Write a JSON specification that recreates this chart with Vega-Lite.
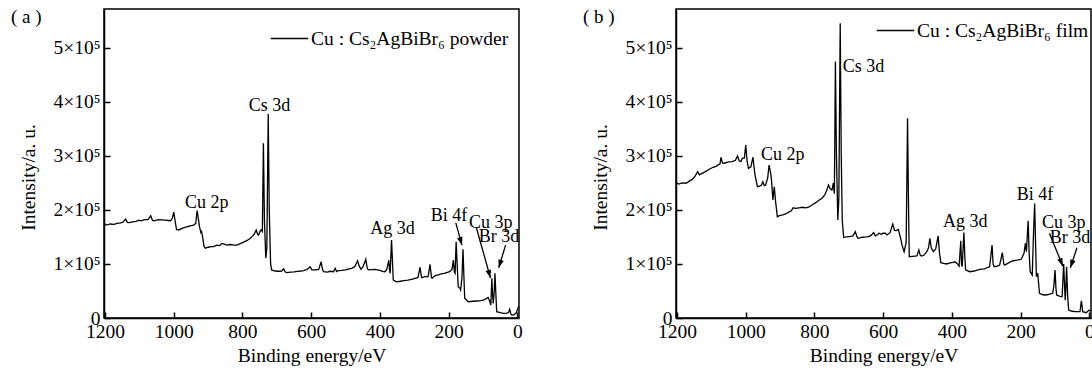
{
  "$schema": "https://vega.github.io/schema/vega-lite/v6.json",
  "background": "white",
  "padding": {"left": 10, "top": 7, "right": 0, "bottom": 2},
  "spacing": 59,
  "config": {
    "font": "Liberation Serif, Times New Roman, DejaVu Serif, serif",
    "view": {"stroke": "black", "strokeWidth": 1.5},
    "axis": {"domainColor": "black", "domainWidth": 1.5, "tickColor": "black", "tickWidth": 1.5, "tickSize": -6, "labelPadding": 10, "labelColor": "black", "labelFontSize": 19.5, "labelFont": "Liberation Serif, Times New Roman, DejaVu Serif, serif", "titleFont": "Liberation Serif, Times New Roman, DejaVu Serif, serif", "titleFontSize": 19.5, "titleFontWeight": "normal", "titleColor": "black", "grid": false, "labelFlush": false},
    "axisY": {"titlePadding": 14, "titleY": 168},
    "axisX": {"titlePadding": 6},
    "legend": {"orient": "top-right", "symbolType": "stroke", "symbolSize": 1400, "symbolStrokeWidth": 1.5, "symbolStrokeColor": "black", "labelFontSize": 19.5, "labelFont": "Liberation Serif, Times New Roman, DejaVu Serif, serif", "labelColor": "black", "labelOffset": 2, "labelLimit": 500, "padding": 0, "offset": 10},
    "title": {"anchor": "start", "frame": "bounds", "offset": -18, "fontSize": 19, "font": "Liberation Serif, Times New Roman, DejaVu Serif, serif", "fontWeight": "normal", "color": "black", "dx": -8},
    "text": {"font": "Liberation Serif, Times New Roman, DejaVu Serif, serif"}
  },
  "resolve": {"scale": {"x": "independent", "y": "independent", "color": "independent"}, "legend": {"color": "independent"}},
  "datasets": {
    "a": [
      {"e": 1203, "i": 175000}, {"e": 1195, "i": 172000}, {"e": 1185, "i": 174000}, {"e": 1174, "i": 173500}, {"e": 1165, "i": 175000},
      {"e": 1155, "i": 176000}, {"e": 1148, "i": 177500}, {"e": 1140, "i": 183000}, {"e": 1135, "i": 177000}, {"e": 1130, "i": 176500},
      {"e": 1120, "i": 178000}, {"e": 1110, "i": 179000}, {"e": 1100, "i": 181000}, {"e": 1096, "i": 180000}, {"e": 1085, "i": 182000},
      {"e": 1075, "i": 182000}, {"e": 1067, "i": 189000}, {"e": 1062, "i": 181000}, {"e": 1058, "i": 180000}, {"e": 1045, "i": 182000},
      {"e": 1035, "i": 181500}, {"e": 1025, "i": 181000}, {"e": 1015, "i": 180500}, {"e": 1009, "i": 180000}, {"e": 1004, "i": 185000},
      {"e": 1000, "i": 196000}, {"e": 996, "i": 180000}, {"e": 992, "i": 164000}, {"e": 985, "i": 163000}, {"e": 976, "i": 166000},
      {"e": 965, "i": 168000}, {"e": 955, "i": 170000}, {"e": 942, "i": 172000}, {"e": 936, "i": 175000}, {"e": 932, "i": 199000},
      {"e": 928, "i": 182000}, {"e": 925, "i": 169000}, {"e": 921, "i": 158000}, {"e": 919, "i": 160000}, {"e": 916, "i": 150000},
      {"e": 912, "i": 133000}, {"e": 908, "i": 129000}, {"e": 900, "i": 131000}, {"e": 890, "i": 132000}, {"e": 884, "i": 132000},
      {"e": 875, "i": 135000}, {"e": 866, "i": 134000}, {"e": 860, "i": 138000}, {"e": 855, "i": 137000}, {"e": 845, "i": 135000},
      {"e": 835, "i": 136000}, {"e": 825, "i": 135000}, {"e": 816, "i": 135000}, {"e": 805, "i": 138000}, {"e": 795, "i": 141000},
      {"e": 785, "i": 144000}, {"e": 777, "i": 147600}, {"e": 770, "i": 152000}, {"e": 765, "i": 156000}, {"e": 760, "i": 163000},
      {"e": 756, "i": 155000}, {"e": 753, "i": 153700}, {"e": 749, "i": 160000}, {"e": 746, "i": 163000}, {"e": 742, "i": 160000},
      {"e": 739, "i": 323500}, {"e": 736, "i": 180000}, {"e": 732, "i": 110500}, {"e": 729, "i": 130000}, {"e": 725, "i": 377800},
      {"e": 722, "i": 200000}, {"e": 718, "i": 100000}, {"e": 715, "i": 89000}, {"e": 705, "i": 87000}, {"e": 695, "i": 86500},
      {"e": 686, "i": 87000}, {"e": 680, "i": 91000}, {"e": 675, "i": 85000}, {"e": 671, "i": 84000}, {"e": 660, "i": 85000},
      {"e": 650, "i": 85500}, {"e": 640, "i": 86500}, {"e": 630, "i": 87000}, {"e": 622, "i": 87600}, {"e": 612, "i": 90000},
      {"e": 603, "i": 95000}, {"e": 598, "i": 89000}, {"e": 588, "i": 89000}, {"e": 578, "i": 90000}, {"e": 571, "i": 104000},
      {"e": 567, "i": 90000}, {"e": 564, "i": 85700}, {"e": 553, "i": 85000}, {"e": 545, "i": 86500}, {"e": 535, "i": 85700},
      {"e": 530, "i": 92000}, {"e": 526, "i": 86000}, {"e": 521, "i": 87600}, {"e": 510, "i": 88000}, {"e": 500, "i": 89000},
      {"e": 490, "i": 91000}, {"e": 482, "i": 92000}, {"e": 473, "i": 95000}, {"e": 465, "i": 106000}, {"e": 460, "i": 96000},
      {"e": 455, "i": 90000}, {"e": 449, "i": 95000}, {"e": 441, "i": 108700}, {"e": 437, "i": 93000}, {"e": 434, "i": 89000},
      {"e": 424, "i": 89500}, {"e": 414, "i": 90000}, {"e": 400, "i": 88000}, {"e": 390, "i": 86000}, {"e": 385, "i": 85700},
      {"e": 380, "i": 90000}, {"e": 374, "i": 107000}, {"e": 372, "i": 90000}, {"e": 370, "i": 82800}, {"e": 366, "i": 144500},
      {"e": 363, "i": 100000}, {"e": 361, "i": 70000}, {"e": 351, "i": 67000}, {"e": 340, "i": 68000}, {"e": 330, "i": 69000},
      {"e": 318, "i": 70000}, {"e": 305, "i": 72000}, {"e": 295, "i": 74000}, {"e": 289, "i": 75000}, {"e": 283, "i": 94000},
      {"e": 279, "i": 76000}, {"e": 277, "i": 74600}, {"e": 270, "i": 77000}, {"e": 265, "i": 76000}, {"e": 259.5, "i": 76500},
      {"e": 254, "i": 99400}, {"e": 250, "i": 76000}, {"e": 248, "i": 73500}, {"e": 240, "i": 78000}, {"e": 230, "i": 80000},
      {"e": 221, "i": 81500}, {"e": 210, "i": 83000}, {"e": 197, "i": 85700}, {"e": 190, "i": 90000}, {"e": 186, "i": 107000},
      {"e": 183, "i": 85000}, {"e": 181, "i": 82800}, {"e": 178, "i": 141000}, {"e": 175, "i": 100000}, {"e": 172, "i": 58000},
      {"e": 167, "i": 55000}, {"e": 165, "i": 52000}, {"e": 161, "i": 75000}, {"e": 158, "i": 127000}, {"e": 155, "i": 70000},
      {"e": 153, "i": 36500}, {"e": 143, "i": 30000}, {"e": 130, "i": 31000}, {"e": 118, "i": 31500}, {"e": 105, "i": 32000},
      {"e": 95, "i": 34000}, {"e": 85, "i": 38000}, {"e": 80, "i": 31000}, {"e": 77, "i": 24000}, {"e": 74, "i": 73500},
      {"e": 72, "i": 45000}, {"e": 70, "i": 27000}, {"e": 67, "i": 50000}, {"e": 65, "i": 82800}, {"e": 62, "i": 40000},
      {"e": 60, "i": 11700}, {"e": 50, "i": 10000}, {"e": 40, "i": 8700}, {"e": 30, "i": 9000}, {"e": 25, "i": 10500},
      {"e": 22, "i": 16000}, {"e": 19, "i": 8000}, {"e": 16, "i": 5500}, {"e": 10, "i": 6000}, {"e": 3, "i": 9800},
      {"e": -1, "i": 16000}, {"e": -4, "i": 22000}
    ],
    "b": [
      {"e": 1203, "i": 250000}, {"e": 1195, "i": 248000}, {"e": 1185, "i": 250000}, {"e": 1174, "i": 249400}, {"e": 1165, "i": 253000},
      {"e": 1155, "i": 257000}, {"e": 1148, "i": 262000}, {"e": 1140, "i": 271000}, {"e": 1135, "i": 265000}, {"e": 1130, "i": 266700},
      {"e": 1120, "i": 270000}, {"e": 1106, "i": 275400}, {"e": 1095, "i": 279000}, {"e": 1085, "i": 281000}, {"e": 1082, "i": 283000},
      {"e": 1075, "i": 285000}, {"e": 1072, "i": 297600}, {"e": 1068, "i": 287000}, {"e": 1063, "i": 286500}, {"e": 1050, "i": 289000},
      {"e": 1039, "i": 289500}, {"e": 1030, "i": 292000}, {"e": 1024, "i": 300000}, {"e": 1019, "i": 291000}, {"e": 1014, "i": 289500},
      {"e": 1010, "i": 295800}, {"e": 1004, "i": 296000}, {"e": 1000, "i": 320000}, {"e": 996, "i": 290000}, {"e": 992, "i": 277000},
      {"e": 985, "i": 280000}, {"e": 979, "i": 297600}, {"e": 976, "i": 280000}, {"e": 973, "i": 265000}, {"e": 966, "i": 243000},
      {"e": 960, "i": 244000}, {"e": 954, "i": 246000}, {"e": 950, "i": 252000}, {"e": 946, "i": 245000}, {"e": 942, "i": 246000},
      {"e": 936, "i": 260000}, {"e": 932, "i": 283000}, {"e": 928, "i": 270000}, {"e": 925, "i": 255600}, {"e": 921, "i": 218500},
      {"e": 917, "i": 243000}, {"e": 913, "i": 215000}, {"e": 908, "i": 187600}, {"e": 900, "i": 190000}, {"e": 892, "i": 191000},
      {"e": 884, "i": 192600}, {"e": 875, "i": 196000}, {"e": 868, "i": 198000}, {"e": 862, "i": 204000}, {"e": 855, "i": 203000},
      {"e": 845, "i": 204000}, {"e": 835, "i": 205000}, {"e": 825, "i": 204000}, {"e": 817, "i": 205000}, {"e": 805, "i": 210000},
      {"e": 795, "i": 214000}, {"e": 785, "i": 219000}, {"e": 778, "i": 221700}, {"e": 770, "i": 228000}, {"e": 765, "i": 235000},
      {"e": 759, "i": 246000}, {"e": 755, "i": 240000}, {"e": 752, "i": 238000}, {"e": 749, "i": 237000}, {"e": 745, "i": 250000},
      {"e": 742, "i": 230000}, {"e": 739, "i": 474700}, {"e": 736, "i": 300000}, {"e": 732, "i": 181500}, {"e": 729, "i": 220000},
      {"e": 725, "i": 545800}, {"e": 722, "i": 300000}, {"e": 719, "i": 180000}, {"e": 715, "i": 149500}, {"e": 705, "i": 150000},
      {"e": 695, "i": 151000}, {"e": 688, "i": 152000}, {"e": 681, "i": 160000}, {"e": 676, "i": 150000}, {"e": 673, "i": 147600},
      {"e": 660, "i": 149500}, {"e": 650, "i": 150000}, {"e": 643, "i": 150600}, {"e": 635, "i": 153000}, {"e": 628, "i": 158000},
      {"e": 623, "i": 152000}, {"e": 618, "i": 153700}, {"e": 612, "i": 157000}, {"e": 605, "i": 155000}, {"e": 600, "i": 156900},
      {"e": 594, "i": 156900}, {"e": 589, "i": 153700}, {"e": 580, "i": 158000}, {"e": 572, "i": 174000}, {"e": 567, "i": 162000},
      {"e": 562, "i": 161700}, {"e": 556, "i": 164000}, {"e": 550, "i": 150000}, {"e": 545, "i": 135000}, {"e": 539, "i": 122800},
      {"e": 533, "i": 140000}, {"e": 529, "i": 369800}, {"e": 526, "i": 200000}, {"e": 524, "i": 113500}, {"e": 515, "i": 114000},
      {"e": 502, "i": 114800}, {"e": 496, "i": 126000}, {"e": 492, "i": 116000}, {"e": 488, "i": 114800}, {"e": 480, "i": 117000},
      {"e": 473, "i": 122800}, {"e": 468, "i": 130000}, {"e": 464, "i": 147600}, {"e": 460, "i": 130000}, {"e": 454, "i": 122800},
      {"e": 447, "i": 128000}, {"e": 440, "i": 151900}, {"e": 436, "i": 120000}, {"e": 432, "i": 102400}, {"e": 424, "i": 101000},
      {"e": 415.5, "i": 100000}, {"e": 405, "i": 102000}, {"e": 397, "i": 103000}, {"e": 391, "i": 104000}, {"e": 385, "i": 101000},
      {"e": 379, "i": 96000}, {"e": 374, "i": 143000}, {"e": 372, "i": 100000}, {"e": 370, "i": 95000}, {"e": 365, "i": 158000},
      {"e": 362, "i": 110000}, {"e": 360, "i": 89000}, {"e": 348, "i": 85700}, {"e": 335, "i": 87000}, {"e": 319, "i": 90000},
      {"e": 305, "i": 91000}, {"e": 298, "i": 93000}, {"e": 290, "i": 95000}, {"e": 283, "i": 135000}, {"e": 280, "i": 100000},
      {"e": 277, "i": 95000}, {"e": 268, "i": 96000}, {"e": 261, "i": 98000}, {"e": 253, "i": 121000}, {"e": 249, "i": 100000},
      {"e": 246, "i": 98000}, {"e": 235, "i": 102000}, {"e": 222, "i": 106000}, {"e": 210, "i": 107000}, {"e": 198, "i": 108700},
      {"e": 190, "i": 119800}, {"e": 186, "i": 138000}, {"e": 183, "i": 122800}, {"e": 178, "i": 180000}, {"e": 175, "i": 120000},
      {"e": 172, "i": 85700}, {"e": 166, "i": 79600}, {"e": 162, "i": 163000}, {"e": 159, "i": 212000}, {"e": 156, "i": 130000},
      {"e": 154, "i": 76500}, {"e": 150, "i": 82800}, {"e": 145, "i": 45700}, {"e": 135, "i": 43000}, {"e": 126, "i": 42600},
      {"e": 115, "i": 44000}, {"e": 106.5, "i": 45700}, {"e": 103, "i": 60000}, {"e": 99.7, "i": 88900}, {"e": 97, "i": 55000},
      {"e": 95, "i": 42600}, {"e": 85, "i": 40000}, {"e": 79, "i": 39400}, {"e": 74.5, "i": 100000}, {"e": 72, "i": 60000},
      {"e": 70, "i": 33000}, {"e": 68, "i": 60000}, {"e": 66, "i": 95000}, {"e": 63, "i": 40000}, {"e": 60, "i": 14800},
      {"e": 50, "i": 12500}, {"e": 39, "i": 11700}, {"e": 27, "i": 11700}, {"e": 23, "i": 32000}, {"e": 19, "i": 11700},
      {"e": 9, "i": 9800}, {"e": 0, "i": 14800}, {"e": -3, "i": 13000}
    ],
    "la": [
      {"e": 904, "i": 213000, "t": "Cu 2p"}, {"e": 721, "i": 393000, "t": "Cs 3d"}, {"e": 363, "i": 165000, "t": "Ag 3d"},
      {"e": 199, "i": 189000, "t": "Bi 4f"}, {"e": 77, "i": 176000, "t": "Cu 3p"}, {"e": 53, "i": 150000, "t": "Br 3d"}
    ],
    "lb": [
      {"e": 892, "i": 302000, "t": "Cu 2p"}, {"e": 657, "i": 465000, "t": "Cs 3d"}, {"e": 361, "i": 178000, "t": "Ag 3d"},
      {"e": 158, "i": 228000, "t": "Bi 4f"}, {"e": 74, "i": 176000, "t": "Cu 3p"}, {"e": 56, "i": 148000, "t": "Br 3d"}
    ],
    "ra": [
      {"e0": 179, "i0": 176000, "e": 161, "i": 135000, "a": 164},
      {"e0": 119, "i0": 167000, "e": 78, "i": 74000, "a": 164},
      {"e0": 34, "i0": 135000, "e": 54, "i": 93000, "a": 197}
    ],
    "rb": [
      {"e0": 116, "i0": 157000, "e": 77, "i": 96000, "a": 158},
      {"e0": 36, "i0": 130000, "e": 55, "i": 93000, "a": 198}
    ]
  },
  "hconcat": [
    {
      "width": 415,
      "height": 309,
      "title": {"text": "( a )"},
      "encoding": {
        "x": {"field": "e", "type": "quantitative", "scale": {"domain": [1203, -5], "nice": false, "zero": false},
              "axis": {"values": [1200, 1000, 800, 600, 400, 200, 0], "format": "d", "title": "Binding energy/eV"}},
        "y": {"field": "i", "type": "quantitative", "scale": {"domain": [0, 572000], "nice": false},
              "axis": {"values": [0, 100000, 200000, 300000, 400000, 500000], "labelExpr": "datum.value == 0 ? '0' : format(datum.value / 100000, 'd') + '×10⁵'", "title": "Intensity/a. u."}}
      },
      "layer": [
        {
          "data": {"name": "a"},
          "mark": {"type": "line", "strokeWidth": 1.3},
          "encoding": {"color": {"datum": "Cu : Cs₂AgBiBr₆ powder", "type": "nominal", "scale": {"range": ["black"]}, "legend": {"title": null}}}
        },
        {
          "data": {"name": "la"},
          "mark": {"type": "text", "fontSize": 18, "color": "black"},
          "encoding": {"text": {"field": "t"}}
        },
        {
          "data": {"name": "ra"},
          "mark": {"type": "rule", "color": "black", "strokeWidth": 1.3},
          "encoding": {"x2": {"field": "e0"}, "y2": {"field": "i0"}}
        },
        {
          "data": {"name": "ra"},
          "mark": {"type": "point", "shape": "M0,0L-0.35,1L0.35,1Z", "filled": true, "color": "black", "opacity": 1, "size": 256, "strokeWidth": 0},
          "encoding": {"angle": {"field": "a", "type": "quantitative", "scale": null}}
        }
      ]
    },
    {
      "width": 415,
      "height": 309,
      "title": {"text": "( b )"},
      "encoding": {
        "x": {"field": "e", "type": "quantitative", "scale": {"domain": [1203, -5], "nice": false, "zero": false},
              "axis": {"values": [1200, 1000, 800, 600, 400, 200, 0], "format": "d", "title": "Binding energy/eV"}},
        "y": {"field": "i", "type": "quantitative", "scale": {"domain": [0, 572000], "nice": false},
              "axis": {"values": [0, 100000, 200000, 300000, 400000, 500000], "labelExpr": "datum.value == 0 ? '0' : format(datum.value / 100000, 'd') + '×10⁵'", "title": "Intensity/a. u."}}
      },
      "layer": [
        {
          "data": {"name": "b"},
          "mark": {"type": "line", "strokeWidth": 1.3},
          "encoding": {"color": {"datum": "Cu : Cs₂AgBiBr₆ film", "type": "nominal", "scale": {"range": ["black"]}, "legend": {"title": null, "offset": 2}}}
        },
        {
          "data": {"name": "lb"},
          "mark": {"type": "text", "fontSize": 18, "color": "black"},
          "encoding": {"text": {"field": "t"}}
        },
        {
          "data": {"name": "rb"},
          "mark": {"type": "rule", "color": "black", "strokeWidth": 1.3},
          "encoding": {"x2": {"field": "e0"}, "y2": {"field": "i0"}}
        },
        {
          "data": {"name": "rb"},
          "mark": {"type": "point", "shape": "M0,0L-0.35,1L0.35,1Z", "filled": true, "color": "black", "opacity": 1, "size": 256, "strokeWidth": 0},
          "encoding": {"angle": {"field": "a", "type": "quantitative", "scale": null}}
        }
      ]
    }
  ]
}
